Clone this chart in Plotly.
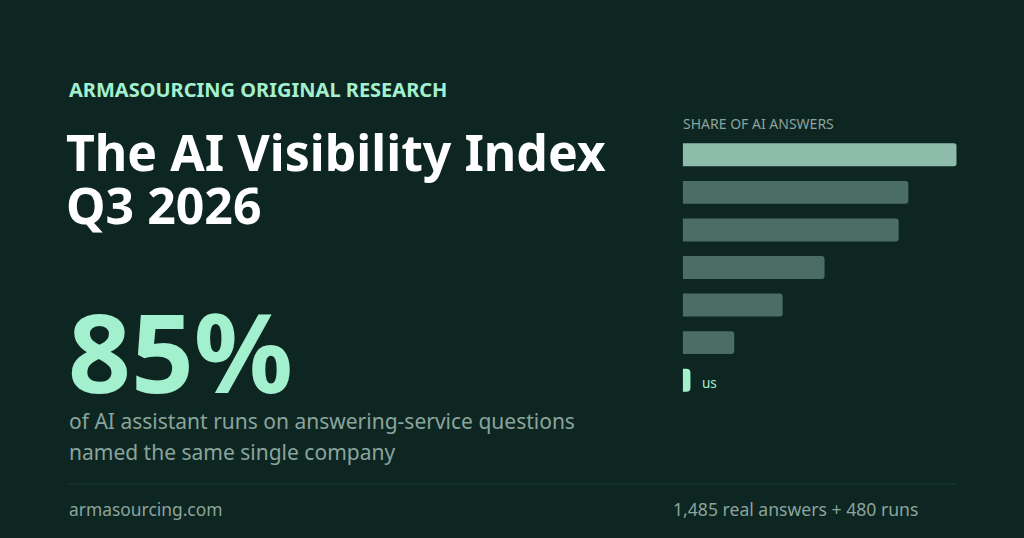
import plotly.graph_objects as go

# --- data ---
rows = ["#1", "#2", "#3", "#4", "#5", "#6", "us"]
competitor_share = [85, 70, 67, 44, 31, 16]
us_share = [2.4]
headline_value = "85%"

kicker = "ARMASOURCING ORIGINAL RESEARCH"
title_lines = ["The AI Visibility Index", "Q3 2026"]
sub_lines = ["of AI assistant runs on answering-service questions",
             "named the same single company"]
chart_label = "SHARE OF AI ANSWERS"
footer_left = "armasourcing.com"
footer_right = "1,485 real answers + 480 runs"

W, H = 1024, 538
BG = "#0e2622"
MINT = "#a3f0cf"
MUTED = "#8aa49c"
FONT = "Noto Sans"


def px(x, y):
    return x / W, 1 - y / H


fig = go.Figure()

bar_colors = ["#8dbcab"] + ["#4a6e65"] * (len(competitor_share) - 1)
fig.add_trace(go.Bar(
    x=competitor_share, y=rows[:-1], orientation="h",
    marker=dict(color=bar_colors, line=dict(width=0), cornerradius=3),
    hoverinfo="skip",
))
fig.add_trace(go.Bar(
    x=us_share, y=rows[-1:], orientation="h",
    marker=dict(color=MINT, line=dict(width=0), cornerradius=4),
    hoverinfo="skip",
))

# text blocks
def note(text, x, y, size, color, bold=False, xanchor="left"):
    ax, ay = px(x, y)
    fig.add_annotation(
        text=f"<b>{text}</b>" if bold else text,
        x=ax, y=ay, xref="paper", yref="paper",
        xanchor=xanchor, yanchor="middle", showarrow=False,
        font=dict(family=FONT, size=size, color=color),
    )

note(kicker, 67, 89, 20, MINT, bold=True)
note(title_lines[0], 64, 152, 50, "white", bold=True)
note(title_lines[1], 64, 205, 50, "white", bold=True)
note(headline_value, 66, 350, 110, MINT, bold=True)
note(sub_lines[0], 67, 421, 21, MUTED)
note(sub_lines[1], 67, 452, 21, MUTED)
note(footer_left, 67, 509, 17.4, MUTED)
note(footer_right, 920, 509, 17.6, MUTED, xanchor="right")
note(chart_label, 681, 124, 14, MUTED)
note("us", 700, 383, 13.5, MINT)

x0, _ = px(69, 0)
x1, ydiv = px(956, 484)
fig.add_shape(type="line", xref="paper", yref="paper",
              x0=x0, x1=x1, y0=ydiv, y1=ydiv,
              line=dict(color="#1f3d37", width=1))

fig.update_layout(
    width=W, height=H,
    margin=dict(l=0, r=0, t=0, b=0),
    paper_bgcolor=BG, plot_bgcolor=BG,
    showlegend=False,
    barmode="overlay",
    bargap=0.39,
    xaxis=dict(domain=[682.7 / W, 956.7 / W], range=[0, 85],
               visible=False, fixedrange=True),
    yaxis=dict(domain=[1 - 399 / H, 1 - 136 / H], range=[6.5, -0.5],
               visible=False, fixedrange=True, type="category"),
)

fig.write_html(
    "out.html",
    config={"displayModeBar": False},
    post_script="document.body.style.margin='0';"
                "document.body.style.background='#0e2622';",
)
